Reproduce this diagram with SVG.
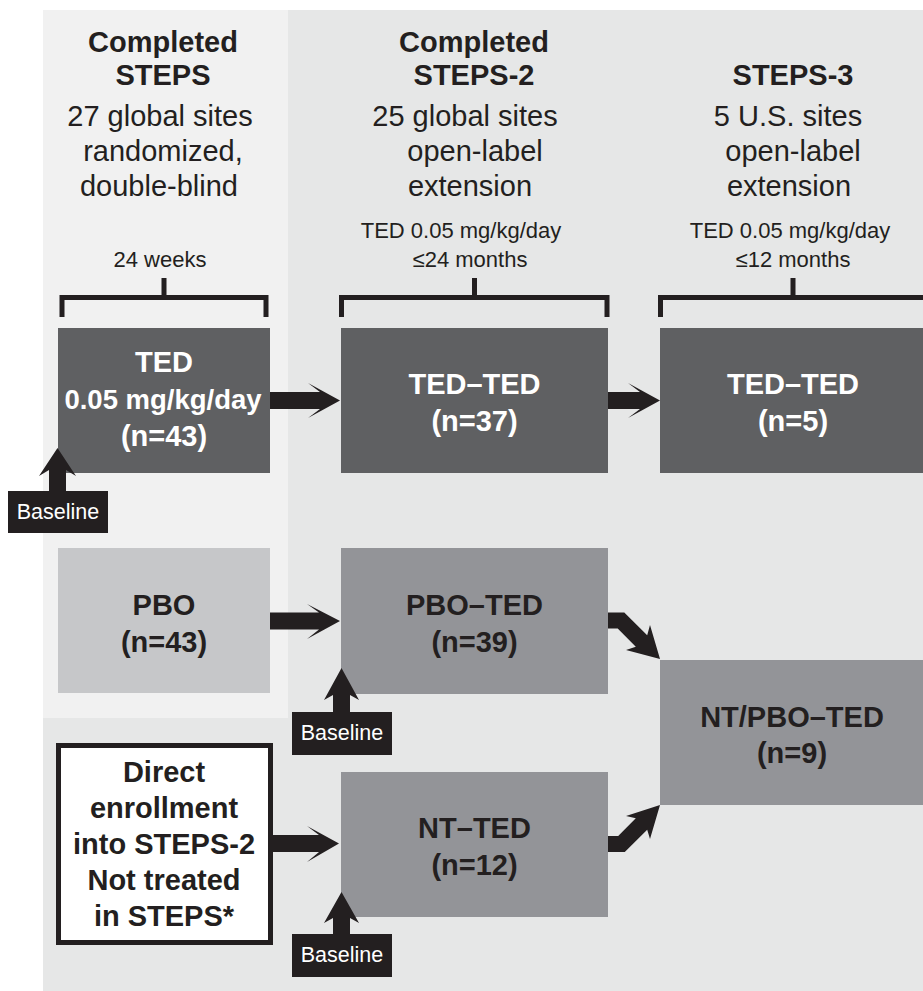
<svg xmlns="http://www.w3.org/2000/svg" width="923" height="991" viewBox="0 0 923 991">
  <style>
    .hd { font-family: "Liberation Sans", Arial, sans-serif; font-size: 29px; font-weight: bold; fill: #231f20; text-anchor: middle; }
    .sub { font-family: "Liberation Sans", Arial, sans-serif; font-size: 29px; fill: #231f20; text-anchor: middle; }
    .sm { font-family: "Liberation Sans", Arial, sans-serif; font-size: 22px; fill: #231f20; text-anchor: middle; }
    .nl { font-family: "Liberation Sans", Arial, sans-serif; font-size: 29px; font-weight: bold; text-anchor: middle; }
    .light { fill: #ffffff; }
    .dark { fill: #231f20; }
    .bl { font-family: "Liberation Sans", Arial, sans-serif; font-size: 21.5px; fill: #ffffff; text-anchor: middle; }
    .bracket { fill: none; stroke: #231f20; stroke-width: 5; stroke-linejoin: miter; }
    .arrow { fill: #231f20; }
  </style>

  <!-- study-period panels -->
  <rect x="43" y="10" width="880" height="981" fill="#e6e7e7"/>
  <rect x="43" y="10" width="245" height="708" fill="#f1f1f1"/>

  <!-- column headings -->
  <g id="head-steps">
    <text class="hd" x="163" y="52">Completed</text>
    <text class="hd" x="163" y="85">STEPS</text>
    <text class="sub" x="160" y="126">27 global sites</text>
    <text class="sub" x="163" y="161">randomized,</text>
    <text class="sub" x="159" y="196">double-blind</text>
    <text class="sm" x="160" y="267">24 weeks</text>
  </g>
  <g id="head-steps2">
    <text class="hd" x="474" y="52">Completed</text>
    <text class="hd" x="474" y="85">STEPS-2</text>
    <text class="sub" x="465" y="126">25 global sites</text>
    <text class="sub" x="475" y="161">open-label</text>
    <text class="sub" x="470" y="196">extension</text>
    <text class="sm" x="461" y="238">TED 0.05 mg/kg/day</text>
    <text class="sm" x="470" y="267">≤24 months</text>
  </g>
  <g id="head-steps3">
    <text class="hd" x="793" y="85">STEPS-3</text>
    <text class="sub" x="788" y="126">5 U.S. sites</text>
    <text class="sub" x="793" y="161">open-label</text>
    <text class="sub" x="789" y="196">extension</text>
    <text class="sm" x="790" y="238">TED 0.05 mg/kg/day</text>
    <text class="sm" x="793" y="267">≤12 months</text>
  </g>

  <!-- duration brackets -->
  <g id="brackets">
    <path class="bracket" d="M62,317 V297.5 H266 V317 M164,297.5 V278"/>
    <path class="bracket" d="M341.5,317 V297.5 H607 V317 M474.5,297.5 V278"/>
    <path class="bracket" d="M660.5,317 V297.5 H930 M793,297.5 V278"/>
  </g>

  <!-- nodes -->
  <g id="ted">
    <rect x="58" y="328" width="212" height="145" fill="#5f6062"/>
    <text class="nl light" x="164" y="372">TED</text>
    <text class="nl light" x="163" y="409" style="font-size:27.5px">0.05 mg/kg/day</text>
    <text class="nl light" x="164" y="446">(n=43)</text>
  </g>
  <g id="ted-ted-37">
    <rect x="341" y="328" width="267" height="145" fill="#5f6062"/>
    <text class="nl light" x="474.5" y="394">TED–TED</text>
    <text class="nl light" x="474.5" y="431">(n=37)</text>
  </g>
  <g id="ted-ted-5">
    <rect x="660" y="328" width="263" height="145" fill="#5f6062"/>
    <text class="nl light" x="793" y="394">TED–TED</text>
    <text class="nl light" x="793" y="431">(n=5)</text>
  </g>
  <g id="pbo">
    <rect x="58" y="548" width="212" height="145" fill="#c6c7c9"/>
    <text class="nl dark" x="164" y="615">PBO</text>
    <text class="nl dark" x="164" y="652">(n=43)</text>
  </g>
  <g id="pbo-ted">
    <rect x="341" y="548" width="267" height="146" fill="#939498"/>
    <text class="nl dark" x="474.5" y="615">PBO–TED</text>
    <text class="nl dark" x="474.5" y="652">(n=39)</text>
  </g>
  <g id="nt-pbo-ted">
    <rect x="660" y="660" width="263" height="145" fill="#939498"/>
    <text class="nl dark" x="792" y="727">NT/PBO–TED</text>
    <text class="nl dark" x="792" y="763">(n=9)</text>
  </g>
  <g id="nt-ted">
    <rect x="341" y="772" width="267" height="145" fill="#939498"/>
    <text class="nl dark" x="474.5" y="838">NT–TED</text>
    <text class="nl dark" x="474.5" y="875">(n=12)</text>
  </g>
  <g id="direct">
    <rect x="58.5" y="745.5" width="212" height="197" fill="#ffffff" stroke="#231f20" stroke-width="5"/>
    <text class="nl dark" x="164" y="782">Direct</text>
    <text class="nl dark" x="164" y="818">enrollment</text>
    <text class="nl dark" x="164" y="854">into STEPS-2</text>
    <text class="nl dark" x="164" y="890">Not treated</text>
    <text class="nl dark" x="164" y="926">in STEPS*</text>
  </g>

  <!-- baseline markers -->
  <g id="baseline-1">
    <polygon class="arrow" points="57.5,448 76,476 66,470 66,491 49,491 49,470 39,476"/>
    <rect x="8" y="491" width="100" height="42" fill="#231f20"/>
    <text class="bl" x="58" y="519">Baseline</text>
  </g>
  <g id="baseline-2">
    <polygon class="arrow" points="341.5,668 359,700 350,695 350,712 333,712 333,695 324,700"/>
    <rect x="292" y="712" width="100" height="43" fill="#231f20"/>
    <text class="bl" x="342" y="740">Baseline</text>
  </g>
  <g id="baseline-3">
    <polygon class="arrow" points="341.5,892 359,923 350,918 350,934 333,934 333,918 324,923"/>
    <rect x="292" y="934" width="100" height="43" fill="#231f20"/>
    <text class="bl" x="342" y="962">Baseline</text>
  </g>

  <!-- connectors -->
  <g id="connectors">
    <polygon class="arrow" points="270,392 320,392 308,383 340,400.5 308,418 320,409 270,409"/>
    <polygon class="arrow" points="608,392 640,392 628,383 660,400.5 628,418 640,409 608,409"/>
    <polygon class="arrow" points="270,612.5 319,612.5 307,604 340,621 307,639 319,629.5 270,629.5"/>
    <polygon class="arrow" points="273,835 319,835 307,826 339,843.5 307,862 319,852 273,852"/>
    <polygon class="arrow" points="608,612.5 624.3,612.5 647.2,635.3 650,625 660,659 626,650 635.8,646.7 617.7,628.5 608,628.5"/>
    <polygon class="arrow" points="608,836 618.2,836 635.8,818.3 626,816 660,805 650,839 647.2,829.7 624.8,852 608,852"/>
  </g>
</svg>
